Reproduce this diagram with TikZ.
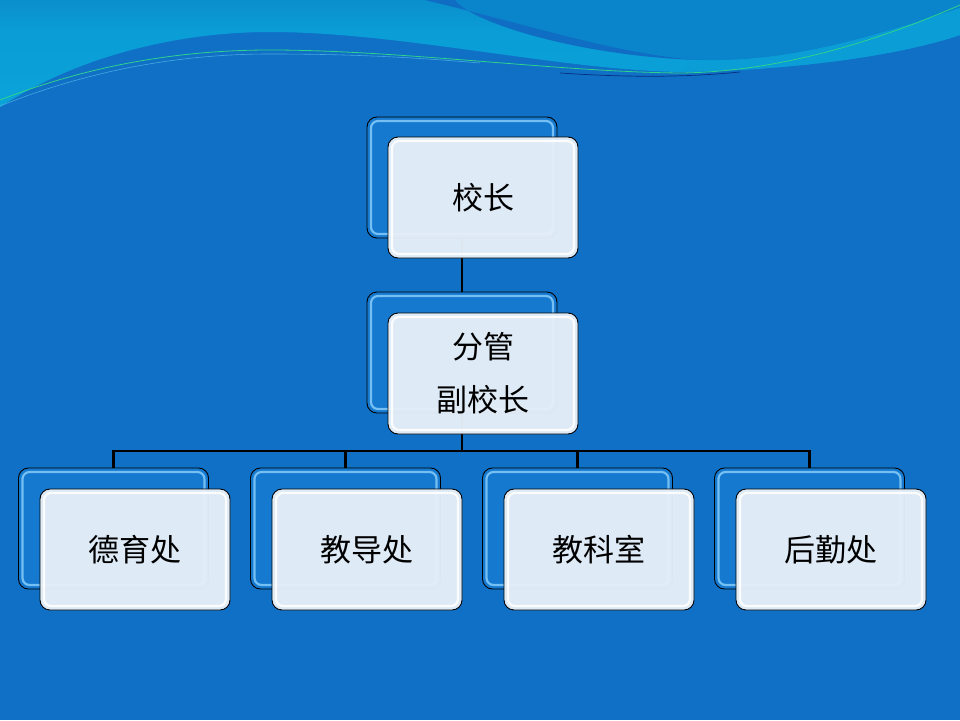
\documentclass[tikz,border=0pt]{standalone}
\usepackage{fontspec}
\newfontfamily\cjk{Noto Sans CJK SC}
\usetikzlibrary{calc}
\definecolor{bgblue}{HTML}{1070C6}
\definecolor{topblue}{HTML}{0B78BE}
\definecolor{cyanlow}{HTML}{0AA8DA}
\definecolor{lightband}{HTML}{0A9DD6}
\definecolor{midblue}{HTML}{0A85CB}
\definecolor{darkband}{HTML}{0F6DC4}
\definecolor{greenline}{HTML}{2FD28C}
\definecolor{backblue}{HTML}{1679D0}
\definecolor{backhl}{HTML}{86CCF8}
\definecolor{frontfill}{HTML}{E7EFF8}
\pgfdeclareverticalshading{hdrshade}{100bp}{color(0bp)=(cyanlow); color(60bp)=(lightband); color(100bp)=(topblue)}
\pgfdeclarelayer{background}
\pgfsetlayers{background,main}
\begin{document}
\begin{tikzpicture}[x=1pt,y=-1pt,
  boxbase/.style={draw=black, line width=0.9pt, rounded corners=10pt,
    minimum width=190pt, minimum height=121pt, inner sep=0pt},
  backbox/.style={boxbase, fill=backblue,
    path picture={\draw[backhl, line width=2.2pt, rounded corners=7pt, opacity=0.85]
      ([shift={(4pt,-4pt)}]path picture bounding box.north west) rectangle
      ([shift={(-4pt,4pt)}]path picture bounding box.south east);}},
  frontbox/.style={boxbase, fill=frontfill, fill opacity=0.96, text opacity=1,
    font=\cjk\fontsize{31}{53}\selectfont, align=center,
    path picture={\draw[white, line width=2.2pt, rounded corners=7pt, opacity=0.9]
      ([shift={(4pt,-4pt)}]path picture bounding box.north west) rectangle
      ([shift={(-4pt,4pt)}]path picture bounding box.south east);}},
  link/.style={draw=black, line width=2.2pt, line join=miter}]
\useasboundingbox (0,0) rectangle (960,720);

% boxes
\node[backbox] (b1) at (462,177.5) {};
\node[frontbox] (f1) at (483,197.5) {校长};
\node[backbox] (b2) at (462,352.5) {};
\node[frontbox] (f2) at (483,373.5) {分管\\副校长};
\node[backbox] (b3) at (113.5,528.5) {};
\node[frontbox] (f3) at (135,549.5) {德育处};
\node[backbox] (b4) at (345.5,528.5) {};
\node[frontbox] (f4) at (367,549.5) {教导处};
\node[backbox] (b5) at (577.5,528.5) {};
\node[frontbox] (f5) at (599,549.5) {教科室};
\node[backbox] (b6) at (809.5,528.5) {};
\node[frontbox] (f6) at (831,549.5) {后勤处};
\coordinate (j) at (462,451);

\begin{pgfonlayer}{background}
  % background
  \fill[bgblue] (0,0) rectangle (960,720);
  \shade[shading=hdrshade]
    (0,0) -- (960,0) -- (960,35)
    .. controls (900,55) and (800,70) .. (680,72)
    .. controls (560,70) and (400,32) .. (270,32)
    .. controls (180,32) and (80,55) .. (0,107) -- cycle;
  % mid-blue area top right
  \fill[midblue]
    (425,0) .. controls (530,25) and (620,55) .. (700,60)
    .. controls (780,62) and (850,45) .. (960,8) -- (960,0) -- cycle;
  % light band on the right
  \fill[lightband]
    (690,61) .. controls (780,62) and (850,45) .. (960,8) -- (960,35)
    .. controls (900,55) and (800,70) .. (680,72)
    .. controls (685,68) and (687,64) .. (690,61) -- cycle;
  \fill[darkband]
    (425,0) .. controls (530,25) and (620,55) .. (700,60)
    .. controls (620,58) and (530,40) .. (480,17)
    .. controls (465,10) and (458,4) .. (455,0) -- cycle;
  \draw[greenline, line width=0.8pt]
    (0,100) .. controls (90,65) and (180,50) .. (270,50)
    .. controls (400,50) and (560,72) .. (680,73)
    .. controls (780,72) and (880,40) .. (960,5);
  \draw[cyan!60!white, opacity=0.6, line width=0.6pt]
    (0,106) .. controls (90,70) and (180,54) .. (270,54)
    .. controls (360,54) and (420,58) .. (480,63);
  \draw[black!70!blue, opacity=0.6, line width=0.7pt]
    (560,73) .. controls (620,77) and (680,78) .. (740,72);
  % connectors
  \draw[link] (b1.south) -- (b2.north);
  \draw[link] (b2.south) -- (j);
  \draw[link] (b3.north) |- (j);
  \draw[link] (b4.north) |- (j);
  \draw[link] (b5.north) |- (j);
  \draw[link] (b6.north) |- (j);
\end{pgfonlayer}
\end{tikzpicture}
\end{document}
